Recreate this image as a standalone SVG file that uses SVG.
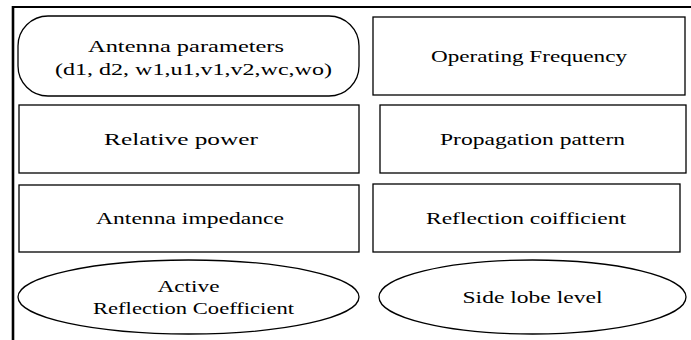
<svg xmlns="http://www.w3.org/2000/svg" width="691" height="340" viewBox="0 0 691 340">
<style>
.box{fill:#fff;stroke:#000;stroke-width:1.3}
.frame{fill:none;stroke:#000}
text{font-family:"Liberation Serif","Times New Roman",serif;font-size:17.5px;fill:#000;text-anchor:middle}
</style>
<rect width="691" height="340" fill="#fff"/>
<g id="frame">
<line class="frame" x1="13" y1="6" x2="13" y2="340" stroke-width="2.6"/>
<line class="frame" x1="12" y1="7" x2="691" y2="7" stroke-width="2"/>
</g>
<g id="connectors"></g>
<g id="antenna-parameters">
<rect class="box" x="18" y="16" width="341" height="80" rx="30" ry="30"/>
<text x="186" y="52" textLength="196" lengthAdjust="spacingAndGlyphs">Antenna parameters</text>
<text x="193.5" y="75" textLength="277" lengthAdjust="spacingAndGlyphs">(d1, d2, w1,u1,v1,v2,wc,wo)</text>
</g>
<g id="operating-frequency">
<rect class="box" x="373" y="17" width="312" height="78"/>
<text x="529" y="62" textLength="196" lengthAdjust="spacingAndGlyphs">Operating Frequency</text>
</g>
<g id="relative-power">
<rect class="box" x="19" y="105" width="340" height="68"/>
<text x="181" y="145" textLength="154" lengthAdjust="spacingAndGlyphs">Relative power</text>
</g>
<g id="propagation-pattern">
<rect class="box" x="380" y="105" width="306" height="68"/>
<text x="532.5" y="145" textLength="185" lengthAdjust="spacingAndGlyphs">Propagation pattern</text>
</g>
<g id="antenna-impedance">
<rect class="box" x="19" y="185" width="340" height="67"/>
<text x="190" y="224" textLength="188" lengthAdjust="spacingAndGlyphs">Antenna impedance</text>
</g>
<g id="reflection-coifficient">
<rect class="box" x="373" y="184" width="307" height="68"/>
<text x="526" y="224" textLength="200" lengthAdjust="spacingAndGlyphs">Reflection coifficient</text>
</g>
<g id="active-reflection-coefficient">
<ellipse class="box" cx="188.5" cy="297" rx="170.5" ry="37"/>
<text x="188.5" y="292" textLength="62" lengthAdjust="spacingAndGlyphs">Active</text>
<text x="193.5" y="314" textLength="201" lengthAdjust="spacingAndGlyphs">Reflection Coefficient</text>
</g>
<g id="side-lobe-level">
<ellipse class="box" cx="532.5" cy="297" rx="153.5" ry="37"/>
<text x="532.5" y="303" textLength="140" lengthAdjust="spacingAndGlyphs">Side lobe level</text>
</g>
</svg>
